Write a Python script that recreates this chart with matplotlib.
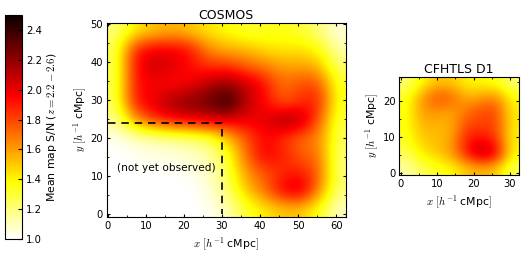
"""Mean S/N maps for COSMOS and CFHTLS D1 with a shared colourbar."""

import matplotlib
matplotlib.use("Agg")
import matplotlib.pyplot as plt
import numpy as np

W, H = 532, 266
CMAP = "hot_r"
VMIN, VMAX = 1.0, 2.5

CBAR_TICKS = [1.0, 1.2, 1.4, 1.6, 1.8, 2.0, 2.2, 2.4]

# mean S/N, rows top to bottom
COSMOS_SN = [
    [1.20, 1.40, 1.50, 1.55, 1.50, 1.42, 1.38, 1.30, 1.33, 1.35, 1.30, 1.20, 1.05],
    [1.25, 1.90, 2.00, 2.00, 1.95, 1.65, 1.55, 1.55, 1.45, 1.42, 1.45, 1.38, 1.12],
    [1.25, 1.92, 2.08, 2.02, 1.92, 1.85, 1.88, 1.75, 1.70, 1.60, 1.60, 1.55, 1.22],
    [1.25, 1.92, 1.95, 1.92, 1.98, 2.12, 2.20, 2.10, 1.95, 1.70, 1.80, 1.80, 1.32],
    [1.25, 1.92, 2.00, 2.18, 2.25, 2.28, 2.50, 2.10, 1.95, 1.72, 1.85, 1.90, 1.32],
    [1.15, 1.60, 1.85, 1.95, 2.00, 2.05, 2.02, 2.00, 2.00, 2.20, 2.15, 1.75, 1.28],
    [1.03, 1.08, 1.12, 1.15, 1.20, 1.25, 1.50, 1.75, 1.95, 1.85, 1.70, 1.65, 1.25],
    [1.00, 1.02, 1.05, 1.05, 1.08, 1.12, 1.30, 1.70, 2.00, 1.90, 1.75, 1.70, 1.20],
    [1.00, 1.00, 1.00, 1.00, 1.03, 1.08, 1.25, 1.60, 1.75, 1.85, 1.90, 1.75, 1.20],
    [1.00, 1.00, 1.00, 1.00, 1.00, 1.05, 1.20, 1.50, 1.70, 2.00, 2.10, 1.65, 1.20],
    [1.00, 1.00, 1.00, 1.00, 1.00, 1.02, 1.10, 1.30, 1.42, 1.50, 1.50, 1.35, 1.08],
]
D1_SN = [
    [1.20, 1.38, 1.50, 1.50, 1.40, 1.38, 1.35, 1.20],
    [1.33, 1.60, 1.80, 1.75, 1.55, 1.60, 1.65, 1.38],
    [1.35, 1.60, 1.62, 1.58, 1.70, 1.80, 1.80, 1.42],
    [1.35, 1.55, 1.55, 1.55, 1.80, 1.80, 1.80, 1.42],
    [1.33, 1.50, 1.52, 1.58, 1.90, 1.95, 1.85, 1.40],
    [1.25, 1.42, 1.50, 1.60, 1.90, 2.15, 2.00, 1.40],
    [1.12, 1.25, 1.33, 1.38, 1.50, 1.55, 1.50, 1.25],
]

# edge of the unobserved corner of COSMOS
DASH_X = [0, 30, 30]
DASH_Y = [24, 24, 0]

plt.rcParams["mathtext.fontset"] = "cm"
plt.rcParams["font.family"] = "DejaVu Sans"
plt.rcParams["font.size"] = 7.2
plt.rcParams["xtick.direction"] = "in"
plt.rcParams["ytick.direction"] = "in"
plt.rcParams["xtick.top"] = True
plt.rcParams["ytick.right"] = True
plt.rcParams["xtick.labelsize"] = 7.2
plt.rcParams["ytick.labelsize"] = 7.2
plt.rcParams["axes.linewidth"] = 0.8
plt.rcParams["xtick.major.size"] = 2.5
plt.rcParams["ytick.major.size"] = 2.5
plt.rcParams["xtick.minor.size"] = 1.3
plt.rcParams["ytick.minor.size"] = 1.3
plt.rcParams["xtick.major.pad"] = 3
plt.rcParams["ytick.major.pad"] = 2.5


def px_axes(fig, left, top, right, bottom):
    return fig.add_axes([left / W, 1 - bottom / H, (right - left) / W, (bottom - top) / H])


def draw_map(ax, values, extent, title, xticks, yticks, xminor, yminor):
    im = ax.imshow(np.array(values), cmap=CMAP, vmin=VMIN, vmax=VMAX, extent=extent,
                   aspect="auto", interpolation="bicubic")
    ax.set_xlim(extent[0], extent[1])
    ax.set_ylim(extent[2], extent[3])
    ax.set_xticks(xticks)
    ax.set_yticks(yticks)
    ax.set_xticks(xminor, minor=True)
    ax.set_yticks(yminor, minor=True)
    ax.set_title(title, fontsize=9, pad=3)
    ax.set_xlabel(r"$x\ [h^{-1}$ cMpc$]$", fontsize=7.8, labelpad=2.5)
    ax.set_ylabel(r"$y\ [h^{-1}$ cMpc$]$", fontsize=7.8, labelpad=2)
    return im


fig = plt.figure(figsize=(W / 100, H / 100), dpi=100)

ax_c = px_axes(fig, 106.5, 23, 346, 217)
im = draw_map(ax_c, COSMOS_SN, (-0.35, 62.6, -0.7, 50.35), "COSMOS",
              [0, 10, 20, 30, 40, 50, 60], [0, 10, 20, 30, 40, 50],
              [5, 15, 25, 35, 45, 55], [5, 15, 25, 35, 45])
ax_c.plot(DASH_X, DASH_Y, color="black", linestyle="--", linewidth=1.2, dashes=(4.5, 3.5))
ax_c.text(15.4, 12.2, "(not yet observed)", ha="center", va="center", fontsize=7.6)

ax_d = px_axes(fig, 399, 77, 519, 175)
draw_map(ax_d, D1_SN, (-0.5, 32.5, -0.5, 26.5), "CFHTLS D1",
         [0, 10, 20, 30], [0, 10, 20],
         [5, 15, 25], [5, 15, 25])

cax = px_axes(fig, 5, 15, 21.5, 239)
cb = fig.colorbar(im, cax=cax)
cb.set_ticks(CBAR_TICKS)
cb.minorticks_off()
cb.ax.tick_params(which="major", direction="in", right=True, left=False, length=3,
                  labelsize=7.2, pad=3.5)
cb.set_label(r"Mean map S/N ($z=2.2-2.6$)", fontsize=7.8, labelpad=2)

fig.savefig("out.png", dpi=100)
plt.close(fig)
